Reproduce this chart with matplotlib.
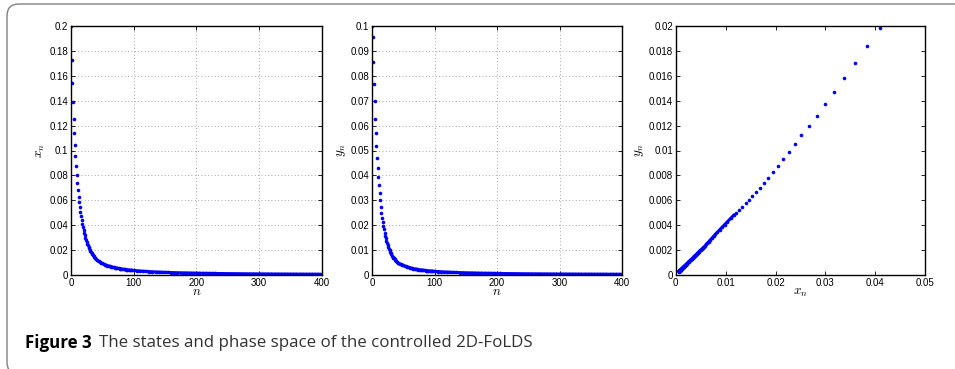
"""
States and phase space of the controlled 2D-FoLDS (MATLAB style recreation).
"""

import matplotlib

matplotlib.use("Agg")
import matplotlib.pyplot as plt
from matplotlib.patches import FancyBboxPatch
from matplotlib.ticker import FuncFormatter, MultipleLocator


# Data

# step index: every step early on, then coarser in the slow tail
N_STEPS = list(range(0, 42)) + list(range(42, 100, 2)) + list(range(100, 401, 5))

X_EARLY = [
    0.2, 0.1727, 0.1545, 0.139, 0.1256, 0.1143, 0.1041, 0.0953, 0.0876, 0.0806,
    0.0742, 0.0685, 0.0629, 0.0586, 0.0546, 0.0508, 0.0473, 0.0441, 0.0410, 0.0383,
    0.0360, 0.0338, 0.0318, 0.0299, 0.0283, 0.0267, 0.0252, 0.0238, 0.0226, 0.0214,
    0.0204, 0.0194, 0.0184, 0.0176, 0.0168, 0.0160, 0.0153, 0.0146, 0.0140, 0.0133,
    0.0126, 0.0121,
]
X_MID = [
    0.01171, 0.01100, 0.01036, 0.00978, 0.00926, 0.00878, 0.00834, 0.00794, 0.00758,
    0.00724, 0.00692, 0.00663, 0.00636, 0.00611, 0.00588, 0.00566, 0.00545, 0.00526,
    0.00508, 0.00491, 0.00475, 0.00459, 0.00445, 0.00431, 0.00419, 0.00406, 0.00395,
    0.00384, 0.00373,
]
X_TAIL = [
    0.00363, 0.00341, 0.00321, 0.00303, 0.00286, 0.00272, 0.00258, 0.00246, 0.00234,
    0.00224, 0.00214, 0.00205, 0.00197, 0.00189, 0.00182, 0.00175, 0.00169, 0.00163,
    0.00158, 0.00152, 0.00147, 0.00143, 0.00138, 0.00134, 0.00130, 0.00127, 0.00123,
    0.00120, 0.00116, 0.00113, 0.00110, 0.00107, 0.00105, 0.00102, 0.00100, 0.00097,
    0.00095, 0.00093, 0.00091, 0.00089, 0.00087, 0.00085, 0.00083, 0.00082, 0.00080,
    0.00078, 0.00077, 0.00075, 0.00074, 0.00073, 0.00071, 0.00070, 0.00069, 0.00067,
    0.00066, 0.00065, 0.00064, 0.00063, 0.00062, 0.00061, 0.00060,
]

Y_EARLY = [
    0.1, 0.0956, 0.0854, 0.0769, 0.0697, 0.0628, 0.0569, 0.0517, 0.0471, 0.0428,
    0.0392, 0.0361, 0.0329, 0.0301, 0.0275, 0.0250, 0.0230, 0.0214, 0.01987, 0.01839,
    0.01705, 0.01582, 0.01473, 0.01371, 0.0128, 0.01194, 0.01122, 0.0105, 0.00988,
    0.00929, 0.00876, 0.00825, 0.00782, 0.00742, 0.00701, 0.00667, 0.00635, 0.00605,
    0.00576, 0.00549, 0.00525, 0.00501,
]
Y_MID = [
    0.00484, 0.00454, 0.00428, 0.00404, 0.00382, 0.00362, 0.00343, 0.00326, 0.00310,
    0.00295, 0.00281, 0.00268, 0.00256, 0.00245, 0.00234, 0.00226, 0.00218, 0.00210,
    0.00203, 0.00197, 0.00190, 0.00184, 0.00179, 0.00173, 0.00168, 0.00163, 0.00159,
    0.00155, 0.00150,
]
Y_TAIL = [
    0.00147, 0.00138, 0.00130, 0.00123, 0.00117, 0.00111, 0.00106, 0.00101, 0.00096,
    0.00092, 0.00088, 0.00085, 0.00082, 0.00079, 0.00076, 0.00073, 0.00071, 0.00069,
    0.00067, 0.00064, 0.00062, 0.00061, 0.00059, 0.00057, 0.00056, 0.00055, 0.00053,
    0.00052, 0.00050, 0.00049, 0.00048, 0.00047, 0.00046, 0.00045, 0.00044, 0.00043,
    0.00042, 0.00041, 0.00040, 0.00040, 0.00039, 0.00038, 0.00037, 0.00037, 0.00036,
    0.00035, 0.00035, 0.00034, 0.00034, 0.00033, 0.00033, 0.00032, 0.00032, 0.00031,
    0.00031, 0.00030, 0.00030, 0.00030, 0.00029, 0.00029, 0.00028,
]

X_STATE = X_EARLY + X_MID + X_TAIL
Y_STATE = Y_EARLY + Y_MID + Y_TAIL

# from this sample on the dots overlap into a solid band
DENSE_FROM = 42

CAPTION_BOLD = "Figure 3"
CAPTION_TEXT = "The states and phase space of the controlled 2D-FoLDS"


# Styling

plt.rcParams["font.family"] = ["Liberation Sans", "DejaVu Sans"]
plt.rcParams["mathtext.fontset"] = "cm"

DOT_COLOR = "#0000ff"
TICK_SIZE = 7
LABEL_SIZE = 9.5


def fmt_g(v, pos):
    return f"{v:g}" if abs(v) > 1e-12 else "0"


def style_axes(ax, grid):
    for sp in ax.spines.values():
        sp.set_linewidth(1.0)
    ax.tick_params(
        direction="in", length=3, width=0.6, top=True, right=True,
        labelsize=TICK_SIZE, pad=2,
    )
    ax.xaxis.set_major_formatter(FuncFormatter(fmt_g))
    ax.yaxis.set_major_formatter(FuncFormatter(fmt_g))
    if grid:
        ax.grid(True, linestyle=(0, (1, 3)), linewidth=0.6, color="#888888")
        ax.set_axisbelow(True)


def plot_dots(ax, xs, ys):
    ax.plot(xs, ys, linestyle="none", marker="o", markersize=2.6,
            markeredgewidth=0, color=DOT_COLOR)
    i0 = DENSE_FROM
    ax.plot(xs[i0:], ys[i0:], linestyle="-", linewidth=2.2,
            solid_capstyle="round", color=DOT_COLOR)


fig = plt.figure(figsize=(9.55, 3.69), dpi=100)

bottom, height = 1 - 275 / 369, 249 / 369
ax1 = fig.add_axes([71 / 955, bottom, 250.5 / 955, height])
ax2 = fig.add_axes([372 / 955, bottom, 250 / 955, height])
ax3 = fig.add_axes([675.7 / 955, bottom, 249.6 / 955, height])

# Panel 1: x_n
plot_dots(ax1, N_STEPS, X_STATE)
ax1.set_xlim(0, 400)
ax1.set_ylim(0, 0.2)
ax1.xaxis.set_major_locator(MultipleLocator(100))
ax1.yaxis.set_major_locator(MultipleLocator(0.02))
style_axes(ax1, grid=True)
ax1.set_xlabel(r"$n$", fontsize=LABEL_SIZE, labelpad=-1)
ax1.set_ylabel(r"$x_n$", fontsize=LABEL_SIZE, labelpad=2)

# Panel 2: y_n
plot_dots(ax2, N_STEPS, Y_STATE)
ax2.set_xlim(0, 400)
ax2.set_ylim(0, 0.1)
ax2.xaxis.set_major_locator(MultipleLocator(100))
ax2.yaxis.set_major_locator(MultipleLocator(0.01))
style_axes(ax2, grid=True)
ax2.set_xlabel(r"$n$", fontsize=LABEL_SIZE, labelpad=-1)
ax2.set_ylabel(r"$y_n$", fontsize=LABEL_SIZE, labelpad=2)

# Panel 3: phase space
plot_dots(ax3, X_STATE, Y_STATE)
ax3.set_xlim(0, 0.05)
ax3.set_ylim(0, 0.02)
ax3.xaxis.set_major_locator(MultipleLocator(0.01))
ax3.yaxis.set_major_locator(MultipleLocator(0.002))
style_axes(ax3, grid=False)
ax3.set_xlabel(r"$x_n$", fontsize=LABEL_SIZE, labelpad=-1)
ax3.set_ylabel(r"$y_n$", fontsize=LABEL_SIZE, labelpad=2)

# Rounded frame, running off the right and bottom edges
frame = FancyBboxPatch(
    (0.07, -0.05), 10.0, 3.65 + 0.05,
    boxstyle="round,pad=0,rounding_size=0.12",
    transform=fig.dpi_scale_trans, facecolor="none",
    edgecolor="#808080", linewidth=1.0,
)
fig.patches.append(frame)

# Caption
cap_y = 1 - 343 / 369
t1 = fig.text(25 / 955, cap_y, CAPTION_BOLD, fontsize=12.2, fontweight="bold",
              family=["Open Sans", "DejaVu Sans"], va="center", ha="left")
fig.canvas.draw()
bb = t1.get_window_extent()
fig.text((bb.x1 + 7) / 955, cap_y, CAPTION_TEXT, fontsize=12.2,
         family=["Open Sans", "DejaVu Sans"], va="center", ha="left",
         color="#333333")

fig.savefig("out.png", dpi=100)
